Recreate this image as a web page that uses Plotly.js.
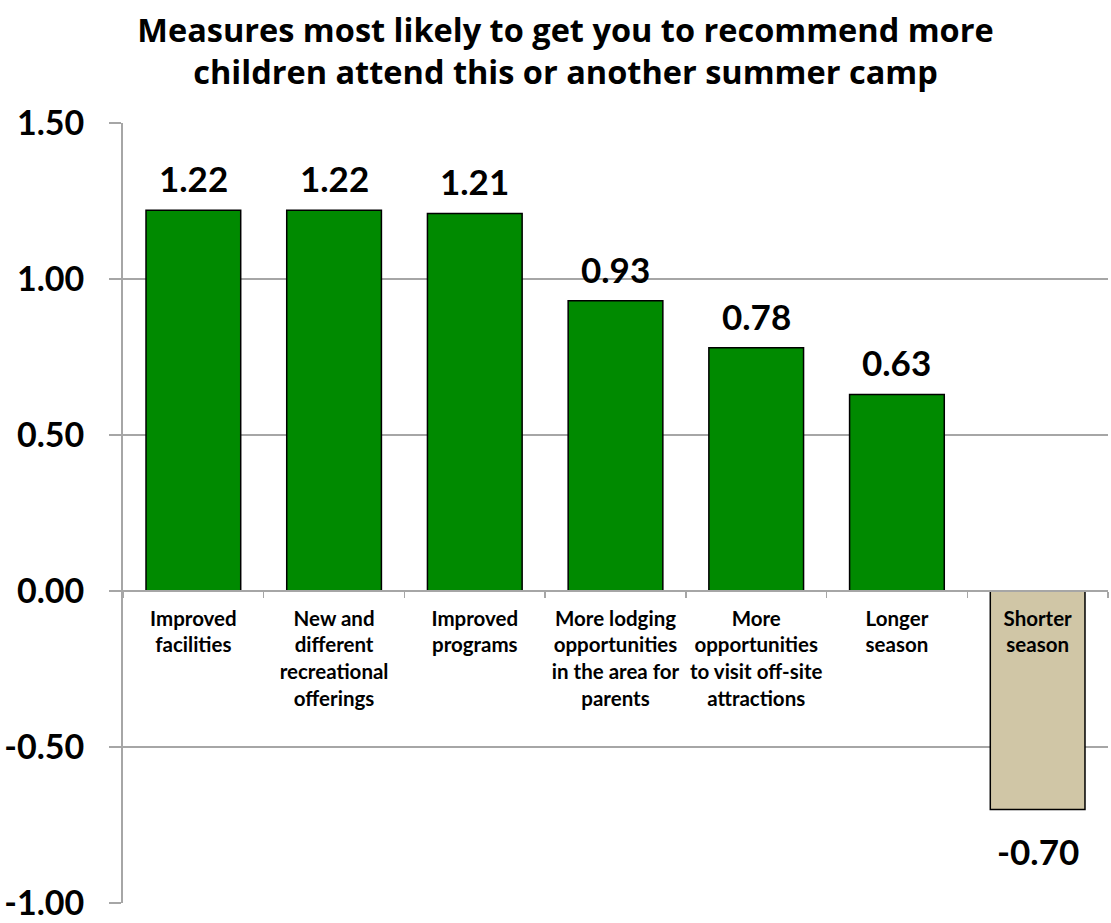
<!DOCTYPE html>
<html>
<head>
<meta charset="utf-8">
<script src="https://cdn.plot.ly/plotly-3.0.1.min.js"></script>
<style>html,body{margin:0;padding:0;background:#fff;}#chart{width:1111px;height:923px;}</style>
</head>
<body>
<div id="chart"></div>
<script>
const categories = [
  "Improved<br>facilities",
  "New and<br>different<br>recreational<br>offerings",
  "Improved<br>programs",
  "More lodging<br>opportunities<br>in the area for<br>parents",
  "More<br>opportunities<br>to visit off-site<br>attractions",
  "Longer<br>season",
  "Shorter<br>season"
];
const values = [1.22, 1.22, 1.21, 0.93, 0.78, 0.63, -0.70];
const valueLabels = ["1.22", "1.22", "1.21", "0.93", "0.78", "0.63", "-0.70"];
const yTickVals = [-1.0, -0.5, 0, 0.5, 1.0, 1.5];
const yTickText = ["-1.00", "-0.50", "0.00", "0.50", "1.00", "1.50"];

const GREEN = "#008a00";
const TAN = "#d0c6a6";
const GRID = "#a6a6a6";
const FONT = "Lato, 'Open Sans', sans-serif";
const TITLE_FONT = "'Open Sans', Lato, sans-serif";

const barColors = values.map(v => v >= 0 ? GREEN : TAN);

const trace = {
  type: "bar",
  x: categories,
  y: values,
  marker: { color: barColors, line: { color: "#000", width: 1.5 } },
  hoverinfo: "skip"
};

const annotations = values.map((v, i) => ({
  x: categories[i],
  y: v,
  xref: "x",
  yref: "y",
  text: valueLabels[i],
  showarrow: false,
  yanchor: v >= 0 ? "bottom" : "top",
  yshift: v >= 0 ? 9 : -19,
  font: { family: FONT, size: 35, color: "#000", weight: 700 }
}));

const layout = {
  width: 1111,
  height: 923,
  margin: { l: 123, r: 3, t: 123, b: 20 },
  paper_bgcolor: "#fff",
  plot_bgcolor: "#fff",
  showlegend: false,
  bargap: 0.327,
  title: {
    text: "Measures most likely to get you to recommend more<br>children attend this or another summer camp",
    x: 0.509,
    xanchor: "center",
    xref: "container",
    y: 0.955,
    yref: "container",
    yanchor: "top",
    font: { family: TITLE_FONT, size: 32.5, color: "#000", weight: 700 }
  },
  xaxis: {
    type: "category",
    anchor: "free",
    position: 0.4,
    showline: true,
    linecolor: GRID,
    linewidth: 2,
    ticks: "outside",
    tickson: "boundaries",
    ticklen: 6,
    tickcolor: GRID,
    tickwidth: 1.5,
    showgrid: false,
    zeroline: false,
    ticklabelstandoff: 9,
    tickfont: { family: FONT, size: 20.5, color: "#000", weight: 700 },
    tickangle: 0,
    fixedrange: true
  },
  yaxis: {
    range: [-1.0, 1.5],
    tickvals: yTickVals,
    ticktext: yTickText,
    showgrid: true,
    gridcolor: GRID,
    gridwidth: 1.5,
    showline: true,
    linecolor: GRID,
    linewidth: 2,
    ticks: "outside",
    ticklen: 12,
    tickcolor: GRID,
    tickwidth: 1.5,
    zeroline: false,
    ticklabelstandoff: 18,
    tickfont: { family: FONT, size: 34, color: "#000", weight: 700 },
    fixedrange: true
  },
  annotations: annotations
};

Plotly.newPlot("chart", [trace], layout, { displayModeBar: false, staticPlot: true });
</script>
</body>
</html>
